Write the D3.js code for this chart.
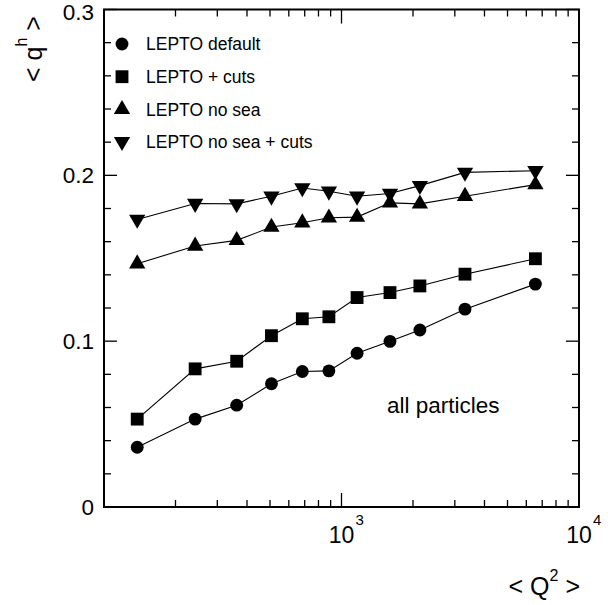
<!DOCTYPE html>
<html><head><meta charset="utf-8">
<script src="https://cdn.jsdelivr.net/npm/d3@7"></script>
<style>body{margin:0;background:#fff}svg{display:block}text{font-family:"Liberation Sans",Arial,sans-serif;fill:#000}</style>
</head><body><svg id="c" width="608" height="605"></svg>
<script>
const q2 = [138, 242, 362, 507, 684, 885, 1163, 1600, 2138, 3311, 6553];
const leptoDefault = [0.0360, 0.0530, 0.0614, 0.0743, 0.0817, 0.0821, 0.0927, 0.0999, 0.1067, 0.1193, 0.1344];
const leptoCuts = [0.0530, 0.0833, 0.0879, 0.1033, 0.1135, 0.1147, 0.1263, 0.1293, 0.1333, 0.1404, 0.1497];
const leptoNoSea = [0.1467, 0.1574, 0.1608, 0.1688, 0.1714, 0.1744, 0.1748, 0.1834, 0.1828, 0.1874, 0.1944];
const leptoNoSeaCuts = [0.1734, 0.1830, 0.1828, 0.1874, 0.1924, 0.1904, 0.1874, 0.1890, 0.1938, 0.2018, 0.2028];
const seriesNames = ["LEPTO default", "LEPTO + cuts", "LEPTO no sea", "LEPTO no sea + cuts"];
const yTicks = [0, 0.1, 0.2, 0.3];
const yTickLabels = ["0", "0.1", "0.2", "0.3"];
const xTickExps = [3, 4];

const svg = d3.select("#c");
const x = d3.scaleLog().domain([100, 10000]).range([104, 579]);
const y = d3.scaleLinear().domain([0, 0.3]).range([507, 9.5]);
const X0 = x.range()[0], X1 = x.range()[1], Y0 = y.range()[0], Y1 = y.range()[1];

const series = [
  {name: seriesNames[0], vals: leptoDefault, sym: d3.symbolCircle, size: 130, rot: 0},
  {name: seriesNames[1], vals: leptoCuts, sym: d3.symbolSquare, size: 165, rot: 0},
  {name: seriesNames[2], vals: leptoNoSea, sym: d3.symbolTriangle, size: 115, rot: 0},
  {name: seriesNames[3], vals: leptoNoSeaCuts, sym: d3.symbolTriangle, size: 115, rot: 180}
];

// ticks
const g = svg.append("g").attr("stroke", "#000").attr("stroke-width", 1.3);
const minorY = d3.range(0, 0.3001, 0.02);
minorY.forEach(v => {
  const major = Math.abs(v * 10 - Math.round(v * 10)) < 1e-6;
  const L = major ? 13 : 7;
  g.append("line").attr("x1", X0).attr("x2", X0 + L).attr("y1", y(v)).attr("y2", y(v));
  g.append("line").attr("x1", X1).attr("x2", X1 - L).attr("y1", y(v)).attr("y2", y(v));
});
x.ticks().forEach(v => {
  const major = Math.abs(Math.log10(v) - Math.round(Math.log10(v))) < 1e-9;
  const L = major ? 14 : 7;
  g.append("line").attr("x1", x(v)).attr("x2", x(v)).attr("y1", Y0).attr("y2", Y0 - L);
  g.append("line").attr("x1", x(v)).attr("x2", x(v)).attr("y1", Y1).attr("y2", Y1 + L);
});

// frame
svg.append("rect").attr("x", X0).attr("y", Y1).attr("width", X1 - X0).attr("height", Y0 - Y1)
  .attr("fill", "none").attr("stroke", "#000").attr("stroke-width", 2);

// y tick labels
yTicks.forEach((v, i) => {
  svg.append("text").attr("x", 94).attr("y", Math.max(y(v), 12)).attr("dy", "0.36em")
    .attr("text-anchor", "end").attr("font-size", 22.5).text(yTickLabels[i]);
});
// x tick labels
xTickExps.forEach(e => {
  svg.append("text").attr("x", x(Math.pow(10, e))).attr("y", 543).attr("font-size", 23)
    .attr("text-anchor", "middle").text("10");
  svg.append("text").attr("x", x(Math.pow(10, e)) + 14).attr("y", 525).attr("font-size", 15).text(String(e));
});

// axis titles
const yl = svg.append("text").attr("transform", "translate(42,49) rotate(-90)").attr("text-anchor", "middle").attr("font-size", 25);
yl.append("tspan").text("< q");
yl.append("tspan").attr("dy", -15).attr("font-size", 16).text("h");
yl.append("tspan").attr("dy", 15).text(" >");
const xl = svg.append("text").attr("x", 580).attr("y", 595).attr("text-anchor", "end").attr("font-size", 25);
xl.append("tspan").text("< Q");
xl.append("tspan").attr("dy", -14).attr("font-size", 16).text("2");
xl.append("tspan").attr("dy", 14).text(" >");

svg.append("text").attr("x", 387).attr("y", 413).attr("font-size", 22.5).text("all particles");

// data
const line = d3.line().x((d, i) => x(q2[i])).y(d => y(d));
series.forEach(s => {
  svg.append("path").attr("d", line(s.vals)).attr("fill", "none").attr("stroke", "#000").attr("stroke-width", 1.1);
  const sym = d3.symbol().type(s.sym).size(s.size);
  svg.selectAll(null).data(s.vals).enter().append("path")
    .attr("d", sym).attr("fill", "#000")
    .attr("transform", (d, i) => `translate(${x(q2[i])},${y(d)}) rotate(${s.rot})`);
});

// legend
const ly = [44, 76.7, 109.3, 141.7];
series.forEach((s, i) => {
  svg.append("path").attr("d", d3.symbol().type(s.sym).size(s.size)).attr("fill", "#000")
    .attr("transform", `translate(122,${ly[i]}) rotate(${s.rot})`);
  svg.append("text").attr("x", 146).attr("y", ly[i]).attr("dy", "0.36em").attr("font-size", 17.5).text(s.name);
});
</script></body></html>
